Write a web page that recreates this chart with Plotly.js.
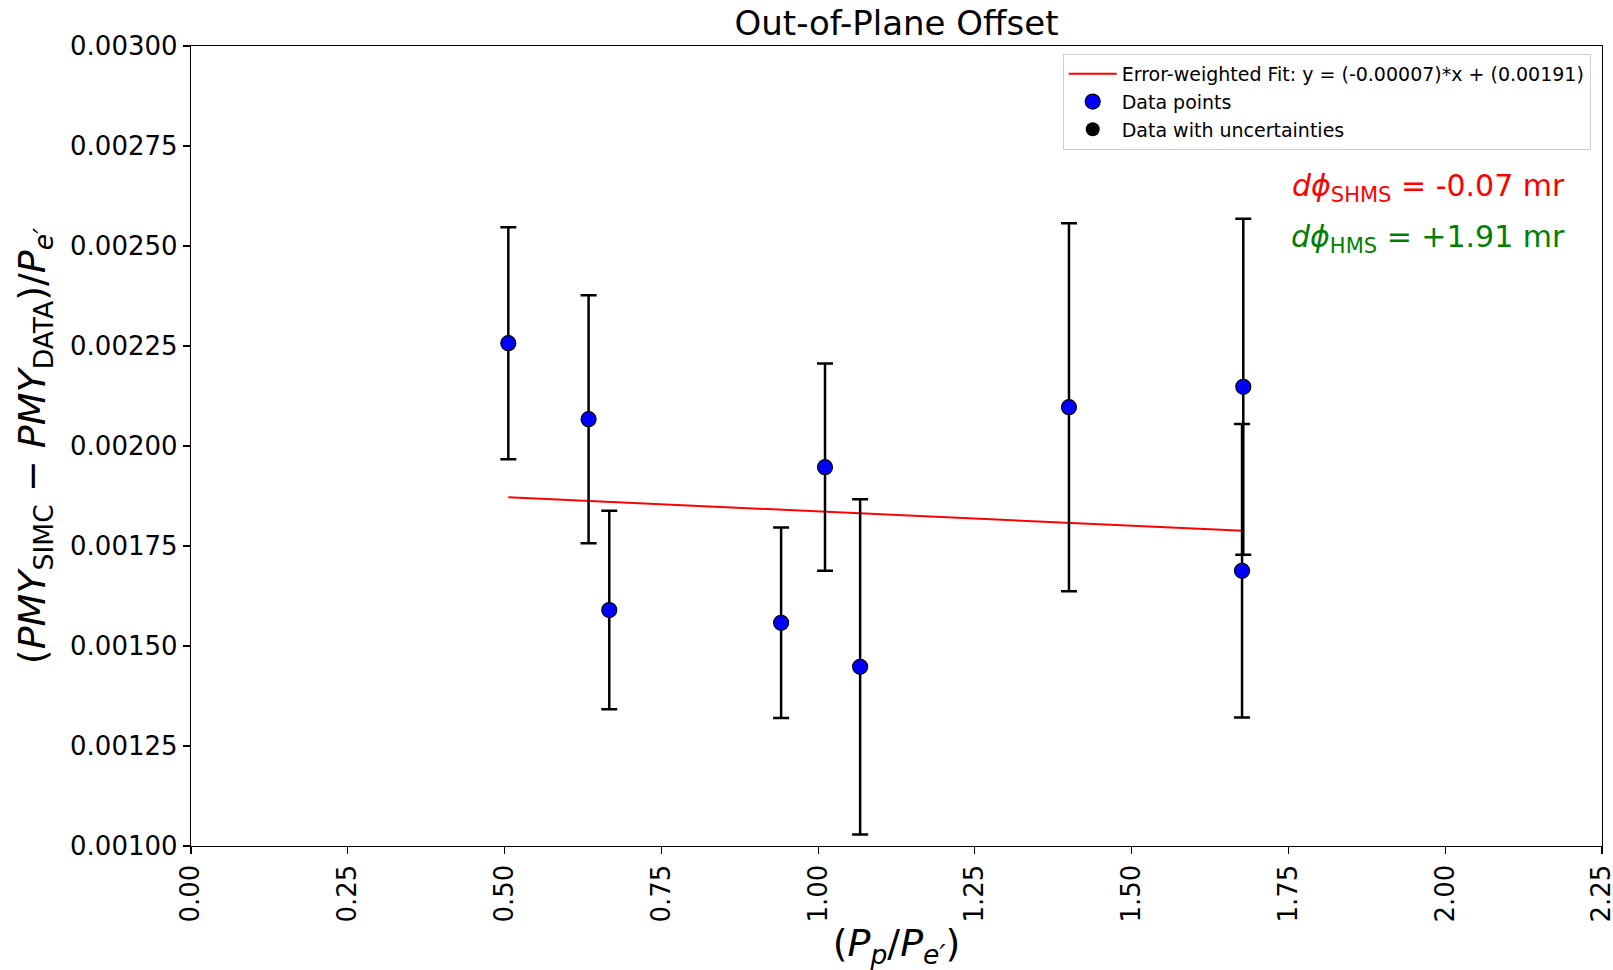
<!DOCTYPE html>
<html>
<head>
<meta charset="utf-8">
<script src="https://cdn.plot.ly/plotly-3.0.1.min.js"></script>
<style>html,body{margin:0;padding:0;background:#fff;}#chart{width:1613px;height:970px;}</style>
</head>
<body>
<div id="chart"></div>
<script>
// Data
const ratioX = [0.506, 0.634, 0.667, 0.941, 1.011, 1.067, 1.400, 1.678, 1.676];
const pmyOffset = [0.002257, 0.002067, 0.001590, 0.001558, 0.001947, 0.001448, 0.002097, 0.002148, 0.001688];
const pmyError = [0.000290, 0.000310, 0.000248, 0.000238, 0.000259, 0.000419, 0.000460, 0.000420, 0.000367];
const fitX = [0.506, 1.678];
const fitY = [0.001872, 0.001788];
const xTicks = [0, 0.25, 0.5, 0.75, 1.0, 1.25, 1.5, 1.75, 2.0, 2.25];
const yTicks = [0.001, 0.00125, 0.0015, 0.00175, 0.002, 0.00225, 0.0025, 0.00275, 0.003];

const FONT = 'DejaVu Sans, sans-serif';

const traces = [
  {
    x: fitX, y: fitY, type: 'scatter', mode: 'lines',
    line: {color: '#ff0000', width: 2},
    name: 'Error-weighted Fit: y = (-0.00007)*x + (0.00191)',
    legendrank: 1
  },
  {
    x: ratioX, y: pmyOffset, type: 'scatter', mode: 'markers',
    marker: {color: '#000000', size: 14},
    error_y: {type: 'data', array: pmyError, visible: true, color: '#000000', thickness: 2.5, width: 8},
    name: 'Data with uncertainties',
    legendrank: 3
  },
  {
    x: ratioX, y: pmyOffset, type: 'scatter', mode: 'markers',
    marker: {color: '#0000ff', size: 15, line: {color: '#000000', width: 1.2}},
    name: 'Data points',
    legendrank: 2
  }
];

const layout = {
  width: 1613, height: 970,
  margin: {l: 191, r: 11, t: 46, b: 124},
  paper_bgcolor: '#ffffff', plot_bgcolor: '#ffffff',
  font: {family: FONT, color: '#000000', size: 26},
  title: {
    text: 'Out-of-Plane Offset',
    font: {family: FONT, size: 34, color: '#000000'},
    x: 0.5, xanchor: 'center', xref: 'paper',
    y: 0.976, yanchor: 'middle', yref: 'container'
  },
  xaxis: {
    range: [0, 2.25], tickvals: xTicks, tickformat: '.2f', tickangle: -90,
    ticklabeloverflow: 'allow',
    showgrid: false, zeroline: false, showline: true, mirror: true,
    linecolor: '#000000', linewidth: 1.2,
    ticks: 'outside', ticklen: 7, tickwidth: 1.2, tickcolor: '#000000',
    tickfont: {family: FONT, size: 26, color: '#000000'},
    title: {
      text: '(<i>P</i><sub><i>p</i></sub>/<i>P</i><sub><i>e′</i></sub>)',
      font: {family: FONT, size: 38, color: '#000000'},
      standoff: 10
    }
  },
  yaxis: {
    range: [0.001, 0.003], tickvals: yTicks, tickformat: '.5f',
    showgrid: false, zeroline: false, showline: true, mirror: true,
    linecolor: '#000000', linewidth: 1.2,
    ticks: 'outside', ticklen: 7, tickwidth: 1.2, tickcolor: '#000000',
    tickfont: {family: FONT, size: 26, color: '#000000'},
    title: {
      text: '(<i>PMY</i><sub>SIMC</sub> − <i>PMY</i><sub>DATA</sub>)/<i>P</i><sub><i>e′</i></sub>',
      font: {family: FONT, size: 38, color: '#000000'},
      standoff: 12
    }
  },
  showlegend: true,
  legend: {
    x: 0.992, y: 0.99, xanchor: 'right', yanchor: 'top',
    bgcolor: 'rgba(255,255,255,0.8)', bordercolor: '#cccccc', borderwidth: 1,
    font: {family: FONT, size: 19, color: '#000000'},
    tracegroupgap: 0, itemwidth: 48
  },
  annotations: [
    {
      xref: 'paper', yref: 'paper', x: 0.975, y: 0.823, xanchor: 'right', yanchor: 'middle',
      text: '<i>dϕ</i><sub>SHMS</sub> = -0.07 mr', showarrow: false,
      font: {family: FONT, size: 30, color: '#ff0000'}
    },
    {
      xref: 'paper', yref: 'paper', x: 0.975, y: 0.759, xanchor: 'right', yanchor: 'middle',
      text: '<i>dϕ</i><sub>HMS</sub> = +1.91 mr', showarrow: false,
      font: {family: FONT, size: 30, color: '#008000'}
    }
  ]
};

Plotly.newPlot('chart', traces, layout, {displayModeBar: false, staticPlot: true});
</script>
</body>
</html>
